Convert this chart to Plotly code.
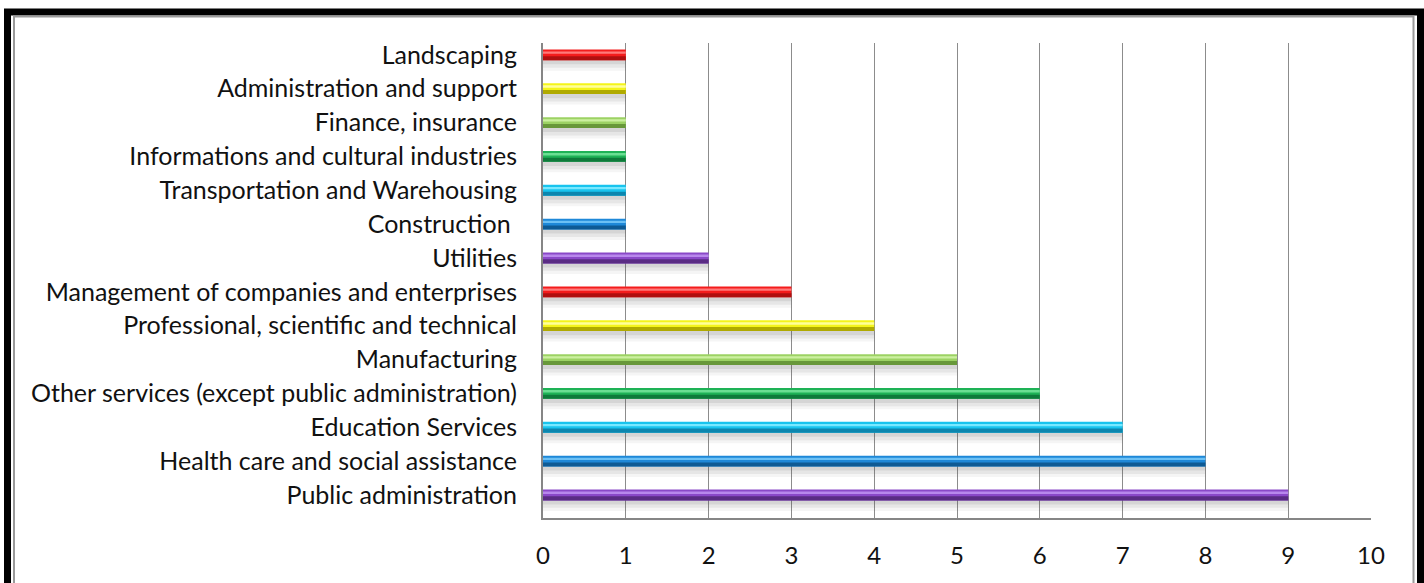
import plotly.graph_objects as go

categories = [
    "Public administration",
    "Health care and social assistance",
    "Education Services",
    "Other services (except public administration)",
    "Manufacturing",
    "Professional, scientific and technical",
    "Management of companies and enterprises",
    "Utilities",
    "Construction\u00a0",
    "Transportation and Warehousing",
    "Informations and cultural industries",
    "Finance, insurance",
    "Administration and support",
    "Landscaping",
]
values = [9, 8, 7, 6, 5, 4, 3, 2, 1, 1, 1, 1, 1, 1]

palette_mid = ["#8A48C8", "#1E88D8", "#18C4EE", "#1EB256", "#9CD264", "#F4F41A", "#F41C1C"]
palette_dark = ["#5A2C84", "#0E5A94", "#0C86AE", "#0E7A3A", "#68983A", "#B0AA00", "#B01010"]
palette_light = ["#B888EC", "#6CC0F4", "#78E8FF", "#6ADE92", "#CCF0A0", "#FFFF9A", "#FF7A7A"]

n = len(categories)
mid = [palette_mid[i % 7] for i in range(n)]
dark = [palette_dark[i % 7] for i in range(n)]
light = [palette_light[i % 7] for i in range(n)]

fig = go.Figure()

# soft floor shadow below each bar
for off, w, a in [(-0.28, 0.13, 0.24), (-0.38, 0.10, 0.14), (-0.47, 0.09, 0.06)]:
    fig.add_trace(go.Bar(
        x=values, y=categories, orientation="h",
        offset=off, width=w,
        marker=dict(color=f"rgba(80,80,80,{a})", line=dict(width=0)),
        hoverinfo="skip", showlegend=False,
    ))

# bar body
fig.add_trace(go.Bar(
    x=values, y=categories, orientation="h",
    offset=-0.16, width=0.32,
    marker=dict(color=mid, line=dict(width=0)),
    showlegend=False,
))
# darker lower part
fig.add_trace(go.Bar(
    x=values, y=categories, orientation="h",
    offset=-0.16, width=0.12,
    marker=dict(color=dark, line=dict(width=0)),
    hoverinfo="skip", showlegend=False,
))
# highlight stripe
fig.add_trace(go.Bar(
    x=values, y=categories, orientation="h",
    offset=0.03, width=0.07,
    marker=dict(color=light, line=dict(width=0)),
    hoverinfo="skip", showlegend=False,
))

W, H = 1424, 583
L, R, T, B = 543, 1371, 43, 518
pw, ph = R - L, B - T

def px(x):
    return (x - L) / pw

def py(y):
    return (B - y) / ph

fig.update_layout(
    width=W, height=H,
    margin=dict(l=L, r=W - R, t=T, b=H - B, pad=0),
    barmode="overlay",
    paper_bgcolor="white",
    plot_bgcolor="white",
    font=dict(family="Lato, Calibri, sans-serif", size=25, color="#111111"),
    xaxis=dict(
        range=[0, 10], dtick=1, tick0=0,
        showgrid=True, gridcolor="#8C8C8C", gridwidth=1,
        showline=True, linecolor="#868686", linewidth=2,
        ticks="", ticklabelstandoff=15,
        tickfont=dict(size=24),
        zeroline=False, fixedrange=True,
    ),
    yaxis=dict(
        type="category",
        categoryorder="array", categoryarray=categories,
        range=[-0.68, 13.35],
        showgrid=False,
        showline=True, linecolor="#868686", linewidth=2,
        ticks="", ticklabelstandoff=19,
        tickfont=dict(size=25),
        fixedrange=True,
    ),
    shapes=[
        # outer black frame
        dict(type="rect", xref="paper", yref="paper",
             x0=px(7.5), x1=px(1420.5), y0=py(600), y1=py(12),
             line=dict(color="black", width=7), fillcolor="rgba(0,0,0,0)", layer="above"),
        # inner grey frame line
        dict(type="rect", xref="paper", yref="paper",
             x0=px(14), x1=px(1413.5), y0=py(600), y1=py(16.5),
             line=dict(color="#9A9A9A", width=2), fillcolor="rgba(0,0,0,0)", layer="above"),
    ],
)

fig.write_html(
    "out.html",
    config={"displayModeBar": False},
    post_script="document.body.style.margin='0';document.body.style.overflow='hidden';",
)
